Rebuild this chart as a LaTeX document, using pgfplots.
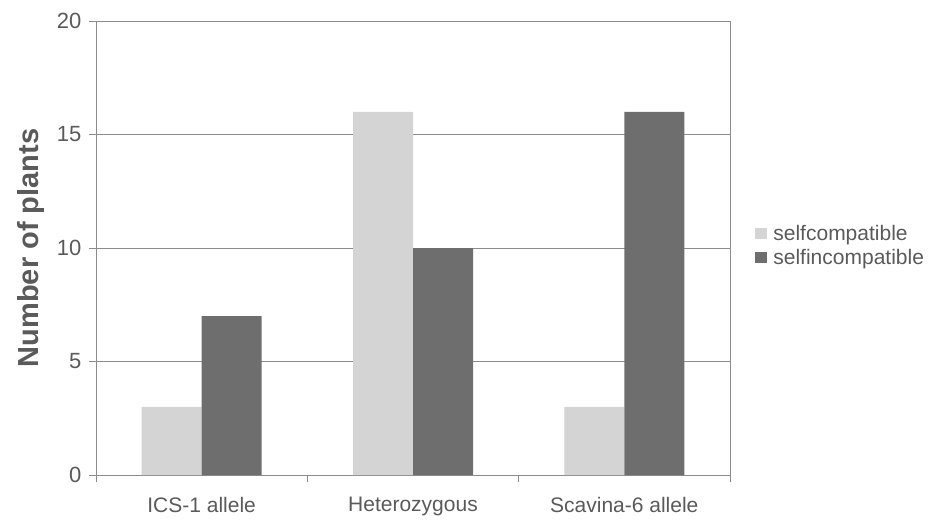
\documentclass[border=0pt]{standalone}
\usepackage{fontspec}
\setmainfont{Liberation Sans}
\usepackage{pgfplots}
\pgfplotsset{compat=1.18}
\definecolor{barlight}{HTML}{D4D4D4}
\definecolor{bardark}{HTML}{6E6E6E}
\definecolor{txt}{HTML}{5A5A5A}
\definecolor{axgray}{HTML}{8C8C8C}
\begin{document}
\begin{tikzpicture}
\begin{axis}[
    name=ax,
    scale only axis,
    width=634pt, height=454pt,
    ybar=0pt, bar width=60pt,
    xmin=-0.5, xmax=2.5,
    ymin=0, ymax=20,
    ytick={0,5,10,15,20},
    xtick={-0.5,0.5,1.5,2.5},
    xticklabels={},
    extra x ticks={0,1,2},
    extra x tick labels={ICS-1 allele,Heterozygous,Scavina-6 allele},
    extra x tick style={major tick length=0pt, tick label style={yshift=-19pt}},
    tick align=outside,
    major tick length=7pt,
    xtick pos=bottom, ytick pos=left,
    ymajorgrids,
    grid style={axgray, line width=0.6pt},
    axis line style={axgray, line width=0.8pt},
    tick style={axgray, line width=0.8pt},
    tick label style={font=\fontsize{21}{25}\selectfont, text=txt},
    yticklabel style={font=\fontsize{22}{26}\selectfont, xshift=-4pt},
    /pgf/number format/assume math mode=true,
    ylabel={\bfseries Number of plants},
    ylabel shift=6pt,
    ylabel style={font=\fontsize{29}{34}\selectfont, text=txt},
    legend style={
        draw=none, fill=none,
        at={(1.035,0.505)}, anchor=west,
        font=\fontsize{21}{25}\selectfont, text=txt,
        row sep=3pt,
        legend cell align=left,
        nodes={inner xsep=6pt},
    },
]
\addplot[fill=barlight, draw=none,
    legend image code/.code={\fill[barlight] (0pt,-5pt) rectangle (12pt,6pt);}]
    coordinates {(0,3) (1,16) (2,3)};
\addplot[fill=bardark, draw=none,
    legend image code/.code={\fill[bardark] (0pt,-5pt) rectangle (12pt,6pt);}]
    coordinates {(0,7) (1,10) (2,16)};
\legend{selfcompatible, selfincompatible}
\end{axis}
\pgfresetboundingbox
\path (ax.south west) ++(-96pt,-45pt) rectangle ++(931pt,520pt);
\end{tikzpicture}
\end{document}
